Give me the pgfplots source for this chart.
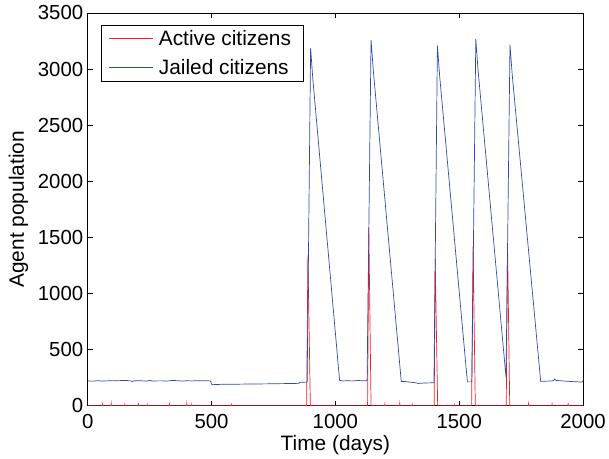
\documentclass[border=0pt]{standalone}
\usepackage{fontspec}
\setmainfont{Liberation Sans}
\usepackage{pgfplots}
\pgfplotsset{compat=1.18}

\definecolor{actred}{RGB}{238,32,36}
\definecolor{jailblue}{RGB}{45,75,172}
\newcommand{\tickfont}{\fontsize{20.5}{24}\selectfont}
\newcommand{\labfont}{\fontsize{21}{25}\selectfont}

\begin{document}
\begin{tikzpicture}
\begin{axis}[
    scale only axis,
    width=497bp, height=394bp,
    xmin=0, xmax=2000,
    ymin=0, ymax=3500,
    xtick={0,500,1000,1500,2000},
    ytick={0,500,1000,1500,2000,2500,3000,3500},
    tick align=inside,
    major tick length=5bp,
    axis line style={line width=0.8bp},
    every tick/.style={black, line width=0.5bp},
    xlabel={Time (days)},
    ylabel={Agent population},
    tick label style={font=\tickfont},
    label style={font=\labfont},
    /pgf/number format/assume math mode=true,
    /pgf/number format/set thousands separator={},
    xticklabel style={yshift=-5bp},
    yticklabel style={xshift=-1bp},
    xlabel style={yshift=0bp},
    ylabel style={yshift=3bp},
    legend cell align=left,
    legend style={at={(0.026,0.970)}, anchor=north west,
        draw=black, line width=0.8bp, row sep=9bp,
        inner xsep=7bp, inner ysep=3bp,
        nodes={inner xsep=5bp},
        font=\labfont},
    legend image code/.code={\draw[#1, line width=1.1bp] (3bp,0bp) -- (48bp,0bp);},
]

% Active citizens
\addplot[actred, line width=0.7bp] coordinates {
    (0,0) (59,0) (60,15) (61,0) (94,0) (95,20) (96,0) (149,0) (150,12) (151,0)
    (204,0) (205,25) (206,0) (239,0) (240,10) (241,0) (329,0) (330,15) (331,0)
    (399,0) (400,20) (401,0) (419,0) (420,12) (421,0) (579,0) (580,10) (581,0)
    (884,0) (889,1340) (899,0)
    (1130,0) (1135,1592) (1144,0)
    (1199,0) (1200,15) (1201,0) (1259,0) (1260,20) (1261,0) (1309,0) (1310,12) (1311,0)
    (1399,0) (1403,1305) (1413,0)
    (1479,0) (1480,10) (1481,0)
    (1550,0) (1556,1418) (1565,0)
    (1690,0) (1695,1450) (1704,0)
    (1779,0) (1780,18) (1781,0) (1874,0) (1875,15) (1876,0) (1939,0) (1940,25) (1941,0)
    (2000,0)
};
\addlegendentry{Active citizens}

% Jailed citizens
\addplot[jailblue, line width=0.7bp] coordinates {
    (0,220) (20,218) (40,222) (60,219) (80,221) (100,223) (120,222) (150,225)
    (170,222) (180,215) (190,222) (220,221) (240,219) (250,226) (260,220)
    (300,221) (320,219) (340,224) (360,223) (380,219) (400,222) (420,220)
    (440,223) (460,221) (480,222) (496,220) (500,192) (503,187) (540,190)
    (600,191) (660,193) (720,194) (780,196) (840,198) (852,199) (856,208) (886,210)
    (900,3186) (909,2910) (1017,225)
    (1030,220) (1050,222) (1070,220) (1090,224) (1110,222) (1128,222)
    (1144,3259) (1153,2990) (1266,216)
    (1280,215) (1300,210) (1320,205) (1336,198) (1360,202) (1380,203) (1398,205)
    (1412,3209) (1421,2940) (1533,212)
    (1551,212)
    (1567,3266) (1576,2995) (1689,252)
    (1705,3218) (1714,2950) (1829,216)
    (1850,218) (1870,220) (1880,222) (1886,238) (1890,225) (1910,222)
    (1930,218) (1960,214) (1980,212) (1995,210) (2000,222)
};
\addlegendentry{Jailed citizens}

\end{axis}
\path (current axis.south west) ++(-88bp,-50bp) coordinate (bbsw);
\path (current axis.north east) ++(24bp,13bp) coordinate (bbne);
\useasboundingbox (bbsw) rectangle (bbne);
\end{tikzpicture}
\end{document}
